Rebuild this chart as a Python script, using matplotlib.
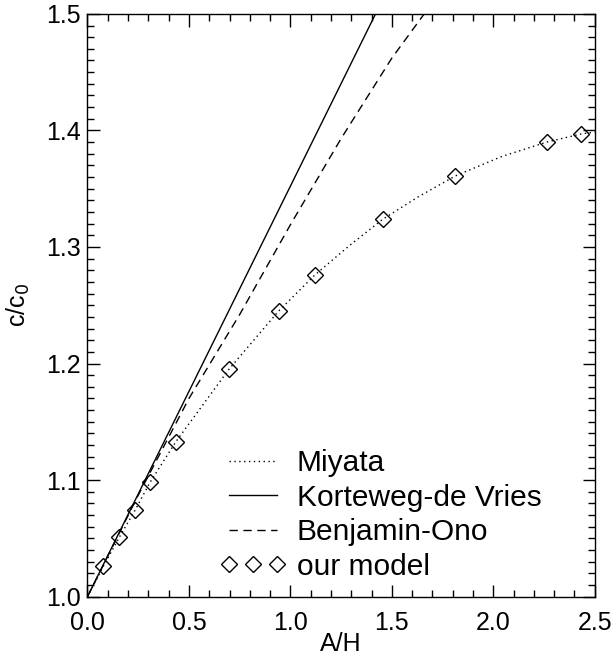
import matplotlib
matplotlib.use("Agg")
import matplotlib.pyplot as plt
from matplotlib.ticker import MultipleLocator

plt.rcParams["font.family"] = ["Liberation Sans", "DejaVu Sans"]

# our model (diamonds)
model_x = [0.078, 0.157, 0.234, 0.308, 0.436, 0.697, 0.942, 1.121, 1.457, 1.814, 2.264, 2.434]
model_y = [1.026, 1.051, 1.074, 1.098, 1.133, 1.195, 1.245, 1.276, 1.324, 1.361, 1.390, 1.397]

# Miyata (dotted)
miyata_x = [0.0, 0.078, 0.157, 0.234, 0.308, 0.436, 0.697, 0.942, 1.121, 1.29, 1.457, 1.635, 1.814, 2.04, 2.264, 2.434, 2.5]
miyata_y = [1.0, 1.026, 1.051, 1.074, 1.098, 1.133, 1.195, 1.245, 1.276, 1.301, 1.324, 1.3435, 1.361, 1.3775, 1.390, 1.397, 1.3985]

# Korteweg-de Vries (solid)
kdv_x = [0.0, 1.42]
kdv_y = [1.0, 1.5]

# Benjamin-Ono (dashed)
bo_x = [0.0, 0.25, 0.5, 0.75, 1.0, 1.25, 1.5, 1.66]
bo_y = [1.0, 1.087, 1.170, 1.242, 1.319, 1.393, 1.462, 1.5]

fig = plt.figure(figsize=(6.14, 6.6), dpi=100)
ax = fig.add_axes([0.1425, 0.096, 0.826, 0.883])

ax.plot(miyata_x, miyata_y, color="k", lw=1.0, linestyle=(0, (1, 2.5)), label="Miyata")
ax.plot(kdv_x, kdv_y, color="k", lw=1.0, label="Korteweg-de Vries")
ax.plot(bo_x, bo_y, color="k", lw=1.0, linestyle=(0, (6, 4)), label="Benjamin-Ono")
ax.plot(model_x, model_y, linestyle="none", marker="D", ms=8, mfc="none", mec="k", mew=1.0,
        label="our model")

ax.set_xlim(0, 2.5)
ax.set_ylim(1.0, 1.5)
ax.xaxis.set_major_locator(MultipleLocator(0.5))
ax.xaxis.set_minor_locator(MultipleLocator(0.1))
ax.yaxis.set_major_locator(MultipleLocator(0.1))
ax.yaxis.set_minor_locator(MultipleLocator(0.01))
ax.xaxis.set_major_formatter(plt.FormatStrFormatter("%.1f"))
ax.yaxis.set_major_formatter(plt.FormatStrFormatter("%.1f"))
ax.tick_params(which="both", direction="in", top=True, right=True, width=1.0, labelsize=18)
ax.tick_params(which="major", length=9)
ax.tick_params(which="minor", length=5)
ax.tick_params(axis="x", which="major", pad=10)
ax.tick_params(axis="y", which="major", pad=5)
for s in ax.spines.values():
    s.set_linewidth(1.0)

ax.set_xlabel("A/H", fontsize=18, labelpad=-2)
ax.set_ylabel("c/c$_0$", fontsize=18, labelpad=10)

ax.legend(loc="lower left", bbox_to_anchor=(0.262, 0.027), frameon=False, fontsize=21.5,
          numpoints=3, handlelength=2.2, handletextpad=0.35, labelspacing=0.22,
          borderaxespad=0, borderpad=0)

fig.savefig("out.png", dpi=100)
